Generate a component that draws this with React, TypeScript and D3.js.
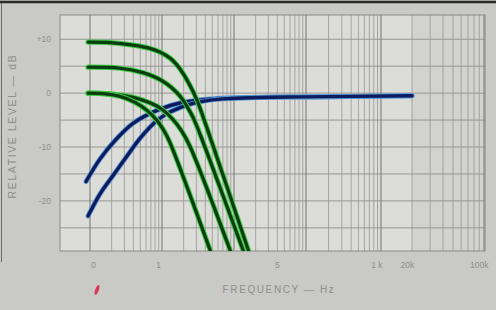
import React from "react";
import * as d3 from "d3";

const W = 496;
const H = 310;

// Frequency axis (Hz), piecewise log as on the scanned chart paper
const xDomain = [0.38, 1, 10, 100, 1000, 10000, 100000];
const decades = [1, 10, 100, 1000, 10000];
const freqTicks = [1.12, 9, 400, 8800, 18000, 90000];
const freqLabels = ["0", "1", "5", "1 k", "20k", "100k"];

// Level axis (dB)
const dbDomain = [-29.3, 14.5];
const dbTicks = [10, 0, -10, -20];
const dbLabels = ["+10", "0", "-10", "-20"];
const dbGrid = [10, 5, 0, -5, -10, -15, -20, -25];

// Green (high-cut) curves: [freq, dB]
const green10: [number, number][] = [
  [0.94, 9.47], [1.9, 9.38], [3.96, 8.91], [6.81, 8.3], [9.38, 7.6], [12.9, 6.5],
  [16.2, 5.2], [20.2, 3.4], [24.5, 1.4], [30.6, -1.3], [42.2, -6.5], [167, -30.1],
];
const green5: [number, number][] = [
  [0.94, 4.81], [2.61, 4.62], [5.45, 3.8], [8.52, 2.8], [11.7, 1.7], [15.2, 0.4],
  [18.9, -1.0], [23.0, -2.8], [27.0, -4.5], [33.7, -7.6], [142, -30.1],
];
const green0a: [number, number][] = [
  [0.94, 0], [1.9, -0.13], [3.96, -0.78], [6.81, -1.8], [10, -3.0], [14.2, -4.9],
  [18.9, -7.1], [24.5, -9.9], [93.8, -30.1],
];
const green0b: [number, number][] = [
  [0.94, 0], [1.62, -0.13], [2.61, -0.6], [4.22, -1.71], [6.19, -3.2], [8.52, -5.07],
  [11.0, -7.31], [12.9, -9.17], [49.5, -30.1],
];

// Blue (low-cut) curves: [freq, dB]
const blueUpper: [number, number][] = [
  [0.88, -16.4], [1.38, -12.2], [2.22, -8.8], [3.96, -5.6], [8.52, -3.2], [19.5, -1.7],
  [58.1, -1.0], [167, -0.8], [827, -0.7], [20000, -0.5],
];
const blueLower: [number, number][] = [
  [0.94, -22.8], [1.38, -18.7], [2.09, -15.3], [3.06, -12.2], [4.95, -8.4], [8.01, -5.4],
  [11.7, -3.8], [17.8, -2.7], [27.0, -1.9], [46.4, -1.3], [88, -1.0], [230, -0.8],
  [827, -0.7], [20000, -0.5],
];

const greens = [green10, green5, green0a, green0b];
const blues = [blueUpper, blueLower];

export default function App() {
  const left = 60, right = 485, top = 15, bottom = 251;
  const x = d3.scaleLog().domain(xDomain).range([60, 90, 162, 234, 306, 381, 484]);
  const y = d3.scaleLinear().domain(dbDomain).range([bottom, top]);
  const line = d3
    .line<[number, number]>()
    .x((d) => x(d[0]))
    .y((d) => y(d[1]))
    .curve(d3.curveCatmullRom.alpha(0.5));

  const vLines: { f: number; major: boolean }[] = [];
  decades.forEach((dec) => {
    for (let m = 1; m <= 9; m++) vLines.push({ f: dec * m, major: m === 1 });
  });
  vLines.push({ f: 100000, major: true });

  const font = "'Liberation Sans', Arial, sans-serif";
  const txt = "#8e8e8c";

  return (
    <svg
      width={W}
      height={H}
      style={{ position: "absolute", left: 0, top: 0, display: "block" }}
    >
      <rect x={0} y={0} width={W} height={H} fill="#c9c9c5" />
      <line x1={0} x2={W} y1={2} y2={2} stroke="#2a2a2a" strokeWidth={2.5} />
      <line x1={1.5} x2={1.5} y1={3} y2={262} stroke="#6a6a68" strokeWidth={1} />
      <rect x={left} y={top} width={right - left} height={bottom - top} fill="#dcdcd8" />
      <rect x={x(20000)} y={top} width={right - x(20000)} height={bottom - top} fill="#d2d2ce" />
      <clipPath id="plot">
        <rect x={left} y={top} width={right - left} height={bottom - top} />
      </clipPath>
      <g>
        {dbGrid.map((v) => (
          <line key={"h" + v} x1={left} x2={right} y1={y(v)} y2={y(v)} stroke="#8f8f8c" strokeWidth={0.9} />
        ))}
        {vLines.map((v, i) => (
          <line
            key={"v" + i}
            x1={x(v.f)}
            x2={x(v.f)}
            y1={top}
            y2={bottom}
            stroke={v.major ? "#7c7c7a" : "#979794"}
            strokeWidth={v.major ? 1.1 : 0.8}
          />
        ))}
        <rect x={left} y={top} width={right - left} height={bottom - top} fill="none" stroke="#8a8a88" strokeWidth={1} />
      </g>
      <g clipPath="url(#plot)" fill="none" strokeLinecap="round">
        {blues.map((c, i) => (
          <g key={"b" + i}>
            <path d={line(c) || ""} stroke="#5a9ad6" strokeWidth={5} />
            <path d={line(c) || ""} stroke="#0c1c5e" strokeWidth={3.4} />
          </g>
        ))}
        {greens.map((c, i) => (
          <g key={"g" + i}>
            <path d={line(c) || ""} stroke="#3ccc44" strokeWidth={5.2} />
            <path d={line(c) || ""} stroke="#0a3c10" strokeWidth={3.2} />
          </g>
        ))}
      </g>
      <g fontFamily={font} fill={txt} fontSize={8.5}>
        {dbTicks.map((v, i) => (
          <text key={"yt" + v} x={51} y={y(v) + 3} textAnchor="end">
            {dbLabels[i]}
          </text>
        ))}
        {freqTicks.map((f, i) => (
          <text key={"xt" + i} x={x(f)} y={268} textAnchor="middle">
            {freqLabels[i]}
          </text>
        ))}
      </g>
      <text
        transform={`translate(16,${126}) rotate(-90)`}
        textAnchor="middle"
        fontFamily={font}
        fontSize={10.5}
        letterSpacing={1.6}
        fill={txt}
      >
        RELATIVE LEVEL — dB
      </text>
      <text
        x={279}
        y={293}
        textAnchor="middle"
        fontFamily={font}
        fontSize={10}
        letterSpacing={1.6}
        fill={txt}
      >
        FREQUENCY — Hz
      </text>
      <ellipse cx={97} cy={290} rx={1.8} ry={5} transform="rotate(20 97 290)" fill="#d43a5a" />
    </svg>
  );
}
